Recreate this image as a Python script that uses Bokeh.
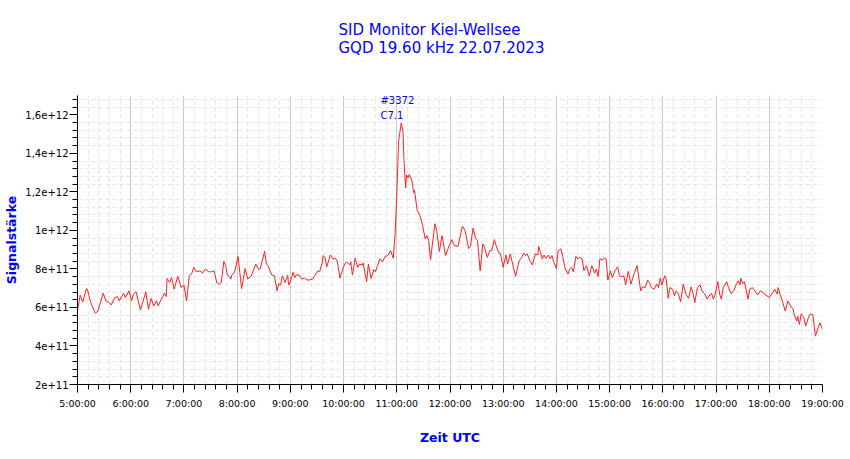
from bokeh.plotting import figure
from bokeh.models import Range1d, FixedTicker, Label, Title
from bokeh.embed import file_html
from bokeh.resources import INLINE
import numpy as np

# ---- data (time UTC, signal strength in units of 1e11) ----
times = [
    "5:00", "5:03", "5:06", "5:10", "5:11", "5:15", "5:20", "5:23", "5:29", "5:32",
    "5:35", "5:38", "5:42", "5:45", "5:47", "5:52", "5:54", "5:58", "6:01", "6:03",
    "6:06", "6:11", "6:17", "6:20", "6:23", "6:26", "6:29", "6:31", "6:34", "6:36",
    "6:38", "6:40", "6:41", "6:44", "6:46", "6:49", "6:53", "6:57", "7:00", "7:03",
    "7:06", "7:09", "7:11", "7:14", "7:18", "7:21", "7:24", "7:28", "7:31", "7:34",
    "7:37", "7:40", "7:42", "7:45", "7:47", "7:49", "7:51", "7:53", "7:54", "7:57",
    "7:58", "8:01", "8:03", "8:05", "8:09", "8:12", "8:16", "8:21", "8:24", "8:26",
    "8:28", "8:31", "8:33", "8:35", "8:37", "8:39", "8:42", "8:45", "8:47", "8:49",
    "8:51", "8:54", "8:57", "8:58", "9:00", "9:03", "9:05", "9:07", "9:10", "9:13",
    "9:16", "9:19", "9:22", "9:25", "9:28", "9:31", "9:33", "9:36", "9:37", "9:39",
    "9:41", "9:45", "9:48", "9:51", "9:53", "9:56", "9:59", "10:02", "10:04", "10:07",
    "10:08", "10:10", "10:13", "10:16", "10:18", "10:21", "10:22", "10:26", "10:28", "10:31",
    "10:34", "10:36", "10:38", "10:41", "10:44", "10:47", "10:50", "10:53", "10:56", "10:58",
    "11:00", "11:02", "11:05", "11:07", "11:08", "11:10", "11:11", "11:13", "11:14", "11:17",
    "11:19", "11:20", "11:23", "11:26", "11:29", "11:32", "11:34", "11:36", "11:38", "11:43",
    "11:45", "11:48", "11:51", "11:55", "11:58", "12:02", "12:05", "12:09", "12:14", "12:17",
    "12:21", "12:23", "12:26", "12:29", "12:31", "12:34", "12:37", "12:39", "12:42", "12:45",
    "12:47", "12:50", "12:52", "12:55", "12:57", "13:00", "13:03", "13:05", "13:08", "13:11",
    "13:14", "13:18", "13:21", "13:23", "13:25", "13:27", "13:30", "13:33", "13:36", "13:39",
    "13:40", "13:42", "13:44", "13:46", "13:48", "13:51", "13:53", "13:55", "13:57", "14:00",
    "14:02", "14:05", "14:07", "14:10", "14:13", "14:15", "14:17", "14:19", "14:22", "14:24",
    "14:26", "14:29", "14:31", "14:34", "14:37", "14:40", "14:43", "14:45", "14:47", "14:49",
    "14:52", "14:54", "14:56", "14:58", "15:01", "15:03", "15:06", "15:09", "15:11", "15:14",
    "15:16", "15:18", "15:21", "15:24", "15:26", "15:28", "15:31", "15:35", "15:37", "15:40",
    "15:43", "15:45", "15:47", "15:50", "15:53", "15:55", "15:57", "15:59", "16:02", "16:04",
    "16:06", "16:08", "16:11", "16:13", "16:15", "16:17", "16:20", "16:23", "16:26", "16:29",
    "16:32", "16:34", "16:36", "16:39", "16:42", "16:44", "16:47", "16:50", "16:53", "16:55",
    "16:57", "16:59", "17:02", "17:04", "17:06", "17:08", "17:12", "17:14", "17:17", "17:20",
    "17:23", "17:25", "17:27", "17:28", "17:30", "17:32", "17:36", "17:38", "17:41", "17:43",
    "17:47", "17:50", "17:53", "17:56", "18:00", "18:04", "18:06", "18:09", "18:10", "18:12",
    "18:15", "18:18", "18:21", "18:24", "18:27", "18:28", "18:31", "18:32", "18:34", "18:36",
    "18:39", "18:41", "18:44", "18:46", "18:49", "18:52", "18:55", "18:57", "19:00",
]
signal_e11 = [
    5.85, 6.63, 6.28, 6.98, 6.95, 6.25, 5.69, 5.81, 6.74, 6.34,
    6.28, 6.13, 6.51, 6.56, 6.34, 6.74, 6.51, 6.86, 6.34, 6.69,
    6.81, 5.87, 6.81, 5.90, 6.46, 6.08, 6.34, 6.08, 6.39, 6.56,
    6.74, 6.56, 7.50, 7.29, 7.55, 6.95, 7.61, 7.03, 7.16, 6.34,
    7.64, 7.78, 8.08, 7.85, 7.90, 7.78, 7.99, 7.85, 7.85, 7.90,
    7.29, 7.21, 7.29, 8.39, 8.17, 7.68, 7.61, 7.47, 7.68, 7.82,
    7.99, 8.65, 7.82, 6.98, 8.02, 7.47, 7.64, 8.25, 7.99, 7.99,
    8.37, 8.91, 8.25, 8.17, 7.90, 7.68, 7.64, 6.86, 7.24, 7.16,
    7.64, 7.29, 7.68, 7.16, 7.33, 7.82, 7.55, 7.69, 7.68, 7.47,
    7.52, 7.42, 7.43, 7.47, 7.68, 7.90, 7.85, 8.34, 8.69, 8.60,
    8.11, 8.72, 8.52, 8.55, 8.37, 7.52, 7.99, 8.31, 8.34, 8.20,
    8.37, 7.68, 8.55, 8.08, 8.25, 8.20, 8.31, 7.34, 8.25, 7.50,
    7.96, 7.85, 8.13, 8.52, 8.37, 8.65, 8.69, 8.95, 8.55, 9.73,
    11.82, 14.61, 15.57, 15.13, 13.74, 12.20, 12.87, 12.73, 12.90, 12.61,
    11.96, 12.08, 11.04, 10.78, 10.29, 9.56, 9.73, 9.47, 8.48, 10.34,
    9.99, 8.90, 9.73, 8.69, 9.07, 9.52, 9.21, 9.17, 10.22, 9.99,
    9.05, 9.15, 10.11, 9.56, 9.47, 7.90, 9.30, 9.12, 8.60, 8.95,
    8.95, 9.52, 9.21, 8.83, 8.78, 8.08, 8.72, 8.25, 8.78, 8.17,
    7.61, 8.43, 8.60, 8.83, 8.69, 8.78, 8.43, 8.20, 8.78, 8.72,
    9.17, 8.86, 8.52, 8.72, 8.55, 8.72, 8.52, 8.69, 8.34, 8.02,
    8.95, 9.04, 8.65, 7.99, 7.73, 7.99, 8.08, 7.85, 8.65, 8.52,
    8.60, 8.52, 7.90, 8.17, 7.64, 8.17, 7.78, 7.99, 7.61, 8.52,
    8.46, 8.57, 8.52, 7.42, 7.90, 7.55, 7.90, 8.11, 7.64, 7.59,
    7.64, 7.17, 7.87, 7.21, 7.52, 7.82, 8.17, 6.86, 7.07, 7.03,
    7.42, 7.29, 7.03, 6.95, 7.21, 7.03, 7.52, 7.17, 7.64, 7.42,
    6.48, 7.03, 6.95, 6.60, 6.86, 6.77, 6.30, 7.21, 6.69, 6.48,
    7.07, 6.72, 6.25, 7.03, 7.17, 6.86, 6.72, 6.43, 6.65, 6.72,
    6.43, 6.69, 7.34, 6.69, 6.43, 7.03, 7.34, 7.03, 6.72, 6.86,
    7.24, 7.38, 7.17, 7.52, 7.24, 7.34, 6.43, 6.95, 7.03, 6.90,
    6.65, 6.86, 6.77, 6.65, 6.51, 6.77, 6.95, 6.69, 7.03, 6.69,
    6.30, 5.81, 6.34, 6.08, 5.90, 5.64, 5.29, 5.55, 5.12, 5.67,
    5.46, 5.03, 5.46, 5.64, 5.64, 4.51, 4.94, 5.20, 4.86,
]

x_ticks = [5, 6, 7, 8, 9, 10, 11, 12, 13, 14, 15, 16, 17, 18, 19]
x_tick_labels = ["5:00:00", "6:00:00", "7:00:00", "8:00:00", "9:00:00", "10:00:00",
                 "11:00:00", "12:00:00", "13:00:00", "14:00:00", "15:00:00",
                 "16:00:00", "17:00:00", "18:00:00", "19:00:00"]
y_ticks = [2e11, 4e11, 6e11, 8e11, 1e12, 1.2e12, 1.4e12, 1.6e12]
y_tick_labels = ["2e+11", "4e+11", "6e+11", "8e+11", "1e+12", "1,2e+12", "1,4e+12", "1,6e+12"]

flare_id = "#3372"
flare_class = "C7.1"

title_line1 = "SID Monitor Kiel-Wellsee"
title_line2 = "GQD 19.60 kHz 22.07.2023"

# ---- conversions ----
x_hours = [int(t.split(":")[0]) + int(t.split(":")[1]) / 60.0 for t in times]
signal = [v * 1e11 for v in signal_e11]

BLUE = "#0000ff"
FONT = "DejaVu Sans"

p = figure(width=850, height=459, output_backend="svg", toolbar_location=None,
           x_range=Range1d(5, 19), y_range=Range1d(2e11, 1.7e12),
           min_border_left=77, min_border_right=28, min_border_top=95, min_border_bottom=75)
p.background_fill_color = "white"
p.border_fill_color = "white"
p.outline_line_color = None

p.line(x_hours, signal, line_color="#ff2020", line_width=1)

# ticks
x_minor = [v for v in np.round(np.arange(5, 19.0001, 0.2), 4) if abs(v - round(v)) > 1e-6]
y_minor = [v for v in np.arange(2e11, 1.7e12 + 1, 4e10) if all(abs(v - t) > 1e9 for t in y_ticks)]
p.xaxis.ticker = FixedTicker(ticks=x_ticks, minor_ticks=x_minor)
p.yaxis.ticker = FixedTicker(ticks=y_ticks, minor_ticks=y_minor)
p.xaxis.major_label_overrides = {t: l for t, l in zip(x_ticks, x_tick_labels)}
p.yaxis.major_label_overrides = {t: l for t, l in zip(y_ticks, y_tick_labels)}

for ax in (p.xaxis[0], p.yaxis[0]):
    ax.axis_line_color = "black"
    ax.major_tick_line_color = "black"
    ax.minor_tick_line_color = "black"
    ax.major_tick_in = 0
    ax.minor_tick_in = 0
    ax.major_tick_out = 8
    ax.minor_tick_out = 5
    ax.major_label_text_font = FONT
    ax.major_label_text_color = "black"
    ax.axis_label_text_font = FONT
    ax.axis_label_text_font_size = "12.5px"
    ax.axis_label_text_font_style = "bold"
    ax.axis_label_text_color = BLUE

p.xaxis.major_label_text_font_size = "9.5px"
p.yaxis.major_label_text_font_size = "10px"
p.xaxis.axis_label = "Zeit UTC"
p.yaxis.axis_label = "Signalstärke"
p.xaxis.major_label_standoff = 5
p.xaxis.axis_label_standoff = 18
p.yaxis.major_label_standoff = 1
p.yaxis.axis_label_standoff = 3

# grid
p.xgrid.grid_line_color = "#c8c8c8"
p.xgrid.grid_line_width = 1
p.xgrid.minor_grid_line_color = "#e6e6e6"
p.xgrid.minor_grid_line_dash = "4 3"
p.ygrid.grid_line_color = None
p.ygrid.minor_grid_line_color = "#e6e6e6"
p.ygrid.minor_grid_line_dash = "4 3"

# flare annotation
flare_x = 10.693
p.add_layout(Label(x=flare_x, y=1.672e12, text=flare_id, text_font=FONT, text_font_size="10px",
                   text_color=BLUE, text_baseline="middle", text_align="left"))
p.add_layout(Label(x=flare_x, y=1.595e12, text=flare_class, text_font=FONT, text_font_size="10px",
                   text_color=BLUE, text_baseline="middle", text_align="left"))

# titles: spacer nearest the frame, then line 2, then line 1
spacer = Title(text=" ", text_font=FONT, text_font_size="15px", standoff=20.25)
t2 = Title(text=title_line2, align="left", offset=261, text_font=FONT, text_font_size="15px",
           text_font_style="normal", text_color=BLUE, standoff=-3)
t1 = Title(text=title_line1, align="left", offset=261, text_font=FONT, text_font_size="15px",
           text_font_style="normal", text_color=BLUE, standoff=0)
p.add_layout(spacer, "above")
p.add_layout(t2, "above")
p.add_layout(t1, "above")

open("out.html", "w").write(file_html(p, INLINE))
